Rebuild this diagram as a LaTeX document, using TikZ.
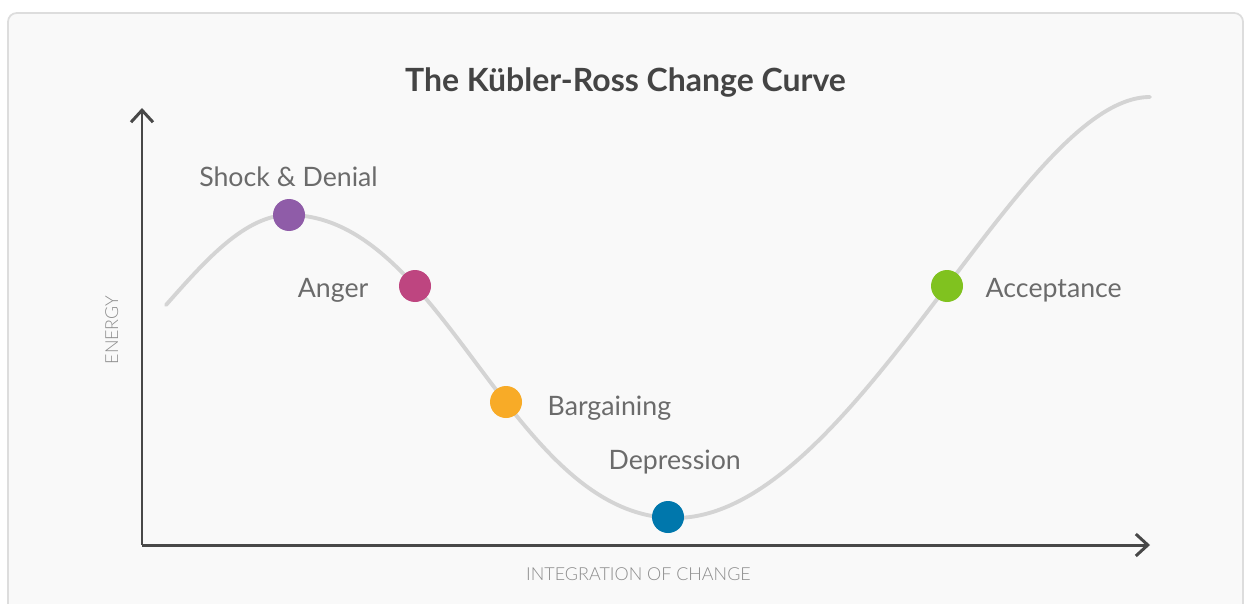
\documentclass[tikz,border=0pt]{standalone}
\usepackage{fontspec}
\setmainfont{Lato}
\newfontfamily\lightfont{Lato Light}
\usepackage{tikz}
\usetikzlibrary{arrows.meta}
\definecolor{panel}{RGB}{249, 249, 249}
\definecolor{edge}{RGB}{221, 221, 221}
\definecolor{axis}{RGB}{72, 72, 72}
\definecolor{curve}{RGB}{212, 212, 212}
\definecolor{ink}{RGB}{107, 107, 107}
\definecolor{faint}{RGB}{140, 140, 140}
\definecolor{head}{RGB}{68, 68, 68}
\definecolor{shock}{RGB}{143, 92, 168}
\definecolor{anger}{RGB}{190, 69, 128}
\definecolor{barg}{RGB}{248, 171, 39}
\definecolor{depr}{RGB}{0, 119, 172}
\definecolor{accept}{RGB}{128, 194, 31}
\tikzset{
  stage/.style={circle, fill=#1, inner sep=0pt, minimum size=3.2mm},
  stagelabel/.style={ink, inner sep=0pt, font=\fontsize{7.6}{9}\selectfont},
  axislabel/.style={faint, inner sep=0pt, font=\lightfont\fontsize{5.1}{6}\selectfont}
}

\begin{document}
\begin{tikzpicture}[scale=1]
  \useasboundingbox[fill=white] (0, 0) rectangle (12.45, 6.03);

  \begin{scope}
    \clip (0, 0) rectangle (12.45, 6.03);
    \draw[edge, fill=panel, line width=0.5, rounded corners=2.5] (0.08, -0.3) rectangle (12.43, 5.90);
  \end{scope}

  \node[head, inner sep=0pt, anchor=base, font=\bfseries\fontsize{9.1}{11}\selectfont] (title) at (6.255, 5.11) {The Kübler-Ross Change Curve};

  % axes
  \coordinate (origin) at (1.42, 0.58);
  \coordinate (ytop) at (1.42, 4.95);
  \coordinate (xend) at (11.50, 0.58);
  \draw[axis, line width=0.85, -{Straight Barb[length=1.2mm, width=2.2mm]}] (origin) -- (ytop);
  \draw[axis, line width=0.85, -{Straight Barb[length=1.2mm, width=2.2mm]}] (origin) -- (xend);
  \node[axislabel, anchor=base] (xlabel) at (6.385, 0.23) {INTEGRATION OF CHANGE};
  \node[axislabel, anchor=base, rotate=90] (ylabel) at (1.18, 2.73) {ENERGY};

  % the curve
  \draw[curve, line width=1.1, line cap=round]
    (1.66, 2.98) .. controls (2.05, 3.42) and (2.45, 3.88) .. (2.89, 3.88)
    .. controls (4.44, 3.88) and (5.11, 0.85) .. (6.75, 0.85)
    .. controls (8.535, 0.85) and (10.20, 5.06) .. (11.50, 5.06);

  % the stages
  \node[stage=shock] (s1) at (2.89, 3.88) {};
  \node[stage=anger] (s2) at (4.15, 3.17) {};
  \node[stage=barg] (s3) at (5.06, 2.01) {};
  \node[stage=depr] (s4) at (6.68, 0.86) {};
  \node[stage=accept] (s5) at (9.47, 3.17) {};

  \node[stagelabel, anchor=base] (l1) at (2.885, 4.16) {Shock \& Denial};
  \node[stagelabel, anchor=base east] (l2) at (3.69, 3.06) {Anger};
  \node[stagelabel, anchor=base west] (l3) at (5.47, 1.88) {Bargaining};
  \node[stagelabel, anchor=base west] (l4) at (6.08, 1.34) {Depression};
  \node[stagelabel, anchor=base west] (l5) at (9.85, 3.06) {Acceptance};

\end{tikzpicture}
\end{document}
